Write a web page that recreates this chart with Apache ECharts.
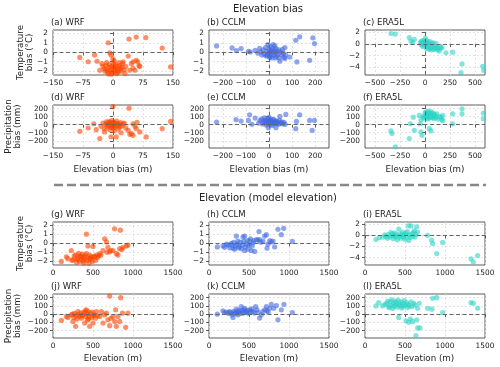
<!DOCTYPE html>
<html>
<head>
<meta charset="utf-8">
<script src="https://cdn.jsdelivr.net/npm/echarts@6/dist/echarts.min.js"></script>
<style>
html, body { margin: 0; padding: 0; background: #fff; }
#chart { width: 500px; height: 367px; }
</style>
</head>
<body>
<div id="chart"></div>
<script>
// --- elevation bias (x) vs temperature bias (y)
var wrfBiasTemp = [[-83,-0.55],[-62,-1.0],[-46,-0.3],[-40,-0.95],[-33,-1.9],[-28,-1.2],[-25,-1.5],[-22,-1.75],[-20,-2.0],[-18,-1.4],[-16,-1.1],[-15,-1.85],[-13,-2.1],[-12,1.0],[-11,-2.3],[-10,-1.6],[-9,-1.3],[-8,-0.05],[-7,-1.9],[-5,-0.3],[-4,-1.7],[-3,-2.2],[-3,-2.3],[-2,-1.45],[0,-0.7],[1,-1.2],[2,-1.9],[3,-0.9],[4,-1.6],[5,-2.0],[6,-1.3],[8,-1.75],[9,-2.25],[10,-1.5],[12,-2.1],[14,-1.9],[15,-1.1],[17,-1.4],[18,-1.7],[20,-2.0],[22,-1.6],[24,-1.2],[25,-1.0],[28,-1.85],[30,-2.25],[32,-1.5],[38,-0.4],[40,1.4],[42,-1.9],[46,-1.2],[50,-1.0],[50,-1.7],[55,-1.9],[58,-0.85],[58,1.6],[62,-1.0],[65,-1.4],[67,-1.5],[82,1.55],[123,0.45],[144,-1.55]];
var cclmBiasTemp = [[-227,0.67],[-160,0.46],[-141,0.18],[-121,0.39],[-89,0.1],[-81,0.03],[-60,0.2],[-48,-0.1],[-41,0.4],[-35,0.05],[-31,-0.3],[-25,0.25],[-20,-0.2],[-15,0.5],[-12,-0.4],[-10,-0.3],[-8,0.1],[-5,0.8],[-3,-0.15],[0,0.3],[2,-0.5],[4,0.05],[5,-0.5],[6,0.6],[8,-0.25],[10,0.15],[12,-0.6],[14,0.35],[16,0.0],[18,0.8],[20,-0.3],[22,0.2],[25,0.7],[27,-0.1],[28,-0.6],[30,0.4],[33,-0.45],[35,0.1],[38,-0.2],[42,0.25],[45,-0.6],[47,-0.95],[50,0.05],[55,-0.3],[58,0.3],[62,-0.1],[65,-0.55],[69,0.5],[69,-0.67],[73,-0.3],[90,-0.5],[116,1.27],[121,-1.02],[133,1.63],[176,-0.85],[190,1.52],[197,0.92]];
var eraBiasTemp = [[-340,1.8],[-297,1.7],[-157,1.1],[-140,0.5],[-123,0.3],[-107,0.8],[-45,0.3],[-40,-0.1],[-35,0.5],[-30,0.1],[-25,-0.4],[-20,0.6],[-15,0.2],[-10,-0.3],[-5,0.4],[0,-0.1],[5,1.0],[8,0.3],[10,-0.5],[15,0.1],[20,-0.8],[22,0.5],[28,-0.2],[30,0.2],[35,-0.6],[40,0.0],[45,-0.9],[50,0.4],[55,-0.3],[60,-0.7],[65,0.1],[70,-1.0],[75,-0.4],[80,0.2],[85,-0.6],[90,-0.9],[100,-0.3],[105,-0.7],[110,0.1],[120,-0.5],[125,-1.0],[135,-0.8],[143,-1.2],[150,-0.4],[160,-0.7],[170,-0.6],[210,-1.5],[277,-1.4],[360,-4.9],[370,-3.4],[577,-3.8],[587,-4.5]];

// --- elevation bias (x) vs precipitation bias (y)
var wrfBiasPrec = [[-83,-82],[-62,-41],[-48,12],[-42,-62],[-33,-173],[-30,-20],[-25,20],[-22,-50],[-21,-90],[-18,5],[-16,35],[-15,-30],[-13,15],[-11,-10],[-10,40],[-8,-60],[-7,25],[-5,0],[-5,-150],[-4,-35],[-3,50],[-2,-15],[0,226],[0,10],[1,-45],[2,30],[3,-80],[4,-5],[5,20],[6,-25],[8,-152],[9,45],[10,-10],[12,15],[13,-55],[15,5],[17,-30],[19,25],[20,-100],[22,-15],[25,10],[28,20],[32,-40],[38,-70],[40,206],[42,-120],[46,-111],[50,12],[50,-132],[55,-20],[58,-49],[60,30],[67,-90],[83,-152],[123,-49],[144,41]];
var cclmBiasPrec = [[-227,33],[-143,62],[-121,45],[-89,53],[-84,123],[-74,4],[-60,82],[-45,20],[-39,53],[-32,70],[-28,10],[-25,40],[-20,85],[-18,25],[-15,55],[-12,-5],[-10,35],[-8,75],[-5,15],[-3,-37],[-2,50],[0,90],[2,25],[4,60],[6,5],[8,40],[10,70],[12,20],[14,-10],[16,45],[18,30],[20,65],[22,10],[25,35],[28,50],[30,-37],[32,15],[35,40],[38,25],[42,5],[45,55],[47,103],[50,20],[55,35],[60,10],[65,30],[70,5],[73,128],[116,-49],[119,41],[133,123],[176,53],[187,-70],[197,53]];
var eraBiasPrec = [[-340,-78],[-330,-111],[-297,-275],[-157,-173],[-147,12],[-117,94],[-107,-70],[-57,115],[-47,12],[-40,62],[-40,-90],[-30,-132],[-20,100],[-10,80],[0,150],[5,120],[10,90],[15,160],[20,110],[25,70],[28,140],[32,100],[35,170],[38,80],[40,125],[43,-49],[45,150],[50,95],[55,130],[60,-78],[60,110],[65,160],[70,85],[75,120],[80,140],[85,100],[90,75],[95,130],[100,110],[110,90],[117,135],[130,70],[145,100],[160,94],[170,60],[177,115],[177,53],[277,135],[277,12],[370,198],[370,135],[583,144],[583,74]];

// --- model elevation (x) vs temperature bias (y)
var wrfElevTemp = [[104,-2.0],[167,-1.5],[187,-1.7],[229,-0.8],[240,-1.9],[250,-1.8],[265,-1.4],[283,-1.3],[295,-2.1],[300,-1.8],[312,-1.65],[320,-1.1],[333,-2.0],[340,-1.4],[345,-1.5],[355,-1.8],[365,-1.2],[375,-1.5],[380,-1.95],[385,-2.2],[395,-1.7],[405,-1.35],[417,1.0],[417,-1.15],[425,-1.9],[437,-0.3],[445,-1.6],[450,-2.2],[458,-1.3],[460,-1.7],[470,-1.75],[480,-1.5],[490,-2.0],[500,-0.35],[510,-1.45],[520,-1.5],[530,-1.9],[542,-1.3],[555,-1.6],[570,-1.4],[583,-1.15],[600,-1.3],[625,-0.8],[646,0.5],[667,0.15],[675,-1.0],[687,-0.45],[708,-0.95],[720,-0.8],[750,-0.8],[770,1.6],[792,-1.15],[812,-1.3],[833,-0.6],[842,1.45],[860,-0.7],[875,-0.45],[917,-0.3],[937,-0.2]];
var cclmElevTemp = [[104,-0.4],[175,-0.3],[196,-0.45],[220,-0.1],[238,-0.2],[260,-0.5],[279,0],[290,-0.2],[300,-0.55],[310,0.1],[321,-0.65],[330,-0.3],[342,0.8],[350,-0.1],[363,0.25],[370,-0.5],[383,-0.35],[395,0.1],[405,-0.6],[415,-0.2],[425,0.7],[435,0.2],[446,0.8],[446,-0.8],[455,-0.4],[467,-0.1],[478,0.3],[488,-0.65],[500,-0.2],[508,0.25],[518,0.5],[529,-0.8],[540,-0.3],[550,0.05],[560,0.3],[571,-0.9],[592,0.4],[610,0.35],[625,1.3],[633,0.4],[650,0.1],[675,0.25],[696,0.8],[717,0.95],[725,-0.55],[737,-0.1],[760,0.3],[779,0.15],[800,0.25],[821,-0.4],[862,1.55],[904,0.95],[933,1.65],[1042,0.2]];
var eraElevTemp = [[137,-0.75],[179,-0.4],[221,-0.3],[250,0.1],[262,-0.2],[280,-0.5],[295,0.2],[310,-0.3],[325,0.55],[335,-0.1],[345,0.3],[355,-0.6],[365,0.0],[375,0.4],[385,-0.3],[395,0.1],[405,-0.8],[421,1.15],[430,-0.2],[440,0.3],[450,-0.5],[460,0.0],[470,0.6],[480,-0.3],[490,0.2],[500,-0.7],[510,0.4],[520,-0.1],[530,0.7],[542,1.7],[545,-0.9],[555,0.1],[565,-0.4],[575,1.7],[585,0.3],[595,-0.2],[605,0.5],[617,0.85],[625,-0.3],[635,0.2],[646,1.55],[658,0.6],[783,0.0],[833,-0.85],[846,-1.45],[896,-3.25],[971,-1.25],[1325,-4.2],[1354,-4.75],[1408,-3.6]];

// --- model elevation (x) vs precipitation bias (y)
var wrfElevPrec = [[104,-76],[167,-28],[187,-40],[230,-10],[242,0],[250,-88],[260,-40],[270,10],[283,-148],[290,-20],[300,-60],[312,32],[320,-5],[333,-28],[345,15],[355,-50],[365,-15],[375,-8],[385,20],[396,-108],[400,40],[405,-30],[417,52],[425,0],[430,-70],[437,32],[445,-60],[450,-28],[458,-148],[470,10],[480,-40],[490,25],[500,-108],[510,-15],[520,-8],[530,-50],[542,32],[560,-20],[583,-28],[604,32],[625,-108],[645,-10],[667,12],[687,-68],[708,220],[708,-140],[725,-50],[750,-30],[771,-88],[783,52],[792,-148],[812,-28],[833,-88],[846,200],[867,12],[908,-160],[937,12]];
var cclmElevPrec = [[104,0],[175,40],[196,20],[220,25],[240,10],[258,32],[270,20],[285,-5],[300,-40],[310,35],[321,20],[330,5],[342,60],[352,25],[363,-8],[373,45],[383,32],[393,10],[404,92],[415,40],[425,12],[435,55],[446,72],[456,30],[467,20],[478,45],[490,10],[508,52],[520,30],[535,65],[550,32],[565,15],[583,92],[600,52],[612,20],[633,-48],[654,-8],[670,30],[696,52],[717,92],[725,40],[740,25],[758,72],[779,120],[808,72],[842,104],[862,-68],[904,52],[937,120],[1042,20]];
var eraElevPrec = [[137,100],[171,140],[221,100],[250,120],[271,132],[285,160],[295,90],[304,80],[315,150],[325,110],[335,175],[345,70],[355,130],[365,95],[375,160],[385,115],[395,140],[405,85],[415,170],[421,-40],[430,120],[440,100],[450,150],[460,75],[470,130],[480,95],[490,165],[500,110],[512,-80],[520,140],[530,80],[540,120],[546,-100],[555,100],[567,-60],[575,150],[585,90],[596,-88],[610,130],[625,110],[637,-260],[646,-68],[658,-168],[658,72],[679,132],[687,-168],[783,72],[837,60],[846,192],[896,200],[971,20],[1325,140],[1354,132],[1408,72]];

// tick labels
var biasTicksWRF = [-150, -75, 0, 75, 150];
var biasTicksCCLM = [-200, -100, 0, 100, 200];
var biasTicksERA = [-500, -250, 0, 250, 500];
var elevTicks = [0, 500, 1000, 1500];
var tempTicks = [-2, -1, 0, 1, 2];
var tempTicksERA = [-4, -2, 0, 2];
var precTicks = [-200, -100, 0, 100, 200];

var FONT = 'DejaVu Sans';
var colors = { WRF: '#FF4500', CCLM: '#4169E1', ERA5L: '#2ED3C6' };
var colLeft = [53, 209, 365], colWidth = 120;
var rowTop = [30, 105, 222, 294], rowHeight = [45, 43, 43, 44];

var xRanges = [
	[[-150, 150, biasTicksWRF], [-260, 260, biasTicksCCLM], [-600, 600, biasTicksERA]],
	[[0, 1500, elevTicks], [0, 1500, elevTicks], [0, 1500, elevTicks]]
];
var yTemp = [[-2.4, 2.35, tempTicks], [-2.4, 2.35, tempTicks], [-5.3, 2.4, tempTicksERA]];
var yPrec = [-290, 245, precTicks];

var panels = [
	['(a) WRF', 0, 0, wrfBiasTemp], ['(b) CCLM', 0, 1, cclmBiasTemp], ['(c) ERA5L', 0, 2, eraBiasTemp],
	['(d) WRF', 1, 0, wrfBiasPrec], ['(e) CCLM', 1, 1, cclmBiasPrec], ['(f) ERA5L', 1, 2, eraBiasPrec],
	['(g) WRF', 2, 0, wrfElevTemp], ['(h) CCLM', 2, 1, cclmElevTemp], ['(i) ERA5L', 2, 2, eraElevTemp],
	['(j) WRF', 3, 0, wrfElevPrec], ['(k) CCLM', 3, 1, cclmElevPrec], ['(l) ERA5L', 3, 2, eraElevPrec]
];

function fmt(v) {
	return v < 0 ? '\u2212' + Math.abs(v) : String(v);
}

function axis(gi, pos, r) {
	return {
		type: 'value', gridIndex: gi, position: pos,
		min: r[0], max: r[1],
		axisLine: { show: false },
		axisTick: { show: true, length: 3, customValues: r[2], lineStyle: { color: '#333', width: 0.8 } },
		axisLabel: {
			customValues: r[2], fontSize: 7.4, fontFamily: FONT, color: '#222',
			margin: pos == 'left' ? 5 : 4, formatter: fmt, hideOverlap: false,
			lineHeight: 8
		},
		splitLine: { show: true, lineStyle: { color: '#dcdcdc', width: 0.8, type: [2, 2] } }
	};
}

var grids = [], xAxes = [], yAxes = [], series = [], graphics = [];
panels.forEach(function (p, i) {
	var row = p[1], col = p[2];
	var left = colLeft[col], top = rowTop[row];
	grids.push({
		left: left, top: top, width: colWidth, height: rowHeight[row],
		show: true, borderColor: '#333', borderWidth: 0.8, backgroundColor: 'transparent'
	});
	xAxes.push(axis(i, 'bottom', xRanges[row < 2 ? 0 : 1][col]));
	yAxes.push(axis(i, 'left', row % 2 == 0 ? yTemp[col] : yPrec));
	var model = p[0].split(' ')[1];
	var lines = [{ yAxis: 0 }];
	if (row < 2) lines.push({ xAxis: 0 });
	series.push({
		type: 'scatter', xAxisIndex: i, yAxisIndex: i,
		data: p[3], symbolSize: 5.2,
		itemStyle: { color: colors[model], opacity: 0.6 },
		markLine: {
			silent: true, symbol: 'none', label: { show: false },
			lineStyle: { color: '#666', width: 1, type: [4, 2.5] },
			data: lines
		}
	});
	graphics.push({
		type: 'text', left: left - 2, top: top - 12,
		style: { text: p[0], font: '8.5px "DejaVu Sans"', fill: '#222' }
	});
});

// row / column labels
function txt(x, y, s, size, rot) {
	return {
		type: 'text', x: x, y: y, rotation: rot || 0,
		style: { text: s, font: size + 'px "DejaVu Sans"', fill: '#222', align: 'center', verticalAlign: 'middle' }
	};
}
graphics.push(txt(268, 9, 'Elevation bias', 10));
graphics.push(txt(268, 198.5, 'Elevation (model elevation)', 10));
// [centre y, first line x, second line x, text]
[[52.5, 20.5, 29.5, 'Temperature', 'bias (\u00b0C)'], [126.5, 8.5, 17.5, 'Precipitation', 'bias (mm)'],
 [243.5, 20.5, 29.5, 'Temperature', 'bias (\u00b0C)'], [316, 8.5, 17.5, 'Precipitation', 'bias (mm)']].forEach(function (l) {
	graphics.push(txt(l[1], l[0], l[3], 8.7, Math.PI / 2));
	graphics.push(txt(l[2], l[0], l[4], 8.7, Math.PI / 2));
});
colLeft.forEach(function (l) {
	graphics.push(txt(l + colWidth / 2, 169.5, 'Elevation bias (m)', 8.7));
	graphics.push(txt(l + colWidth / 2, 358.5, 'Elevation (m)', 8.7));
});
graphics.push({
	type: 'line', shape: { x1: 54, y1: 185, x2: 486, y2: 185 },
	style: { stroke: '#888', lineWidth: 2.5, lineDash: [9, 4] }
});

var chart = echarts.init(document.getElementById('chart'));
chart.setOption({
	animation: false,
	backgroundColor: '#fff',
	grid: grids,
	xAxis: xAxes,
	yAxis: yAxes,
	series: series,
	graphic: graphics
});
</script>
</body>
</html>
